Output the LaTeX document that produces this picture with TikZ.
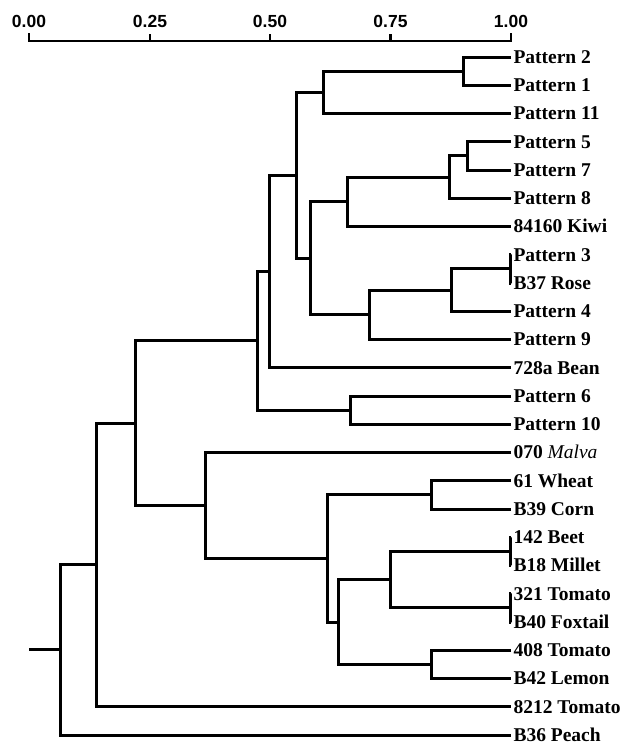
\documentclass[tikz,border=0pt]{standalone}
\usepackage{fontspec}
\setmainfont{Liberation Serif}
\newfontfamily\axisfont{Liberation Sans}
\begin{document}
\begin{tikzpicture}[x=1pt,y=-1pt,
  branch/.style={line width=3pt,line join=miter},
  scaleline/.style={line width=2.5pt},
  leaf/.style={anchor=west,inner xsep=2.5pt,inner ysep=0pt,outer sep=0pt,
    font=\fontsize{19.5}{20}\selectfont\bfseries,text height=12.9pt,text depth=0pt},
  ticklabel/.style={anchor=base,inner sep=0pt,
    font=\axisfont\fontsize{17.5}{18}\selectfont\bfseries}]
\useasboundingbox (0,0) rectangle (627,745);

% distance scale
\coordinate (s0) at (29,41);
\coordinate (s1) at (150,41);
\coordinate (s2) at (270,41);
\coordinate (s3) at (390.5,41);
\coordinate (s4) at (511,41);
\draw[scaleline] ([yshift=8pt]s0) -- (s0) -- (s4) -- ([yshift=8pt]s4);
\foreach \t in {s1,s2,s3} \draw[scaleline] (\t) -- ([yshift=7pt]\t);
\node[ticklabel] (a0) at (29,27) {0.00};
\node[ticklabel] (a1) at (150,27) {0.25};
\node[ticklabel] (a2) at (270,27) {0.50};
\node[ticklabel] (a3) at (390.5,27) {0.75};
\node[ticklabel] (a4) at (511,27) {1.00};

% leaves
\node[leaf] (L0)  at (511,57)     {Pattern 2};
\node[leaf] (L1)  at (511,85.25)  {Pattern 1};
\node[leaf] (L2)  at (511,113.5)  {Pattern 11};
\node[leaf] (L3)  at (511,141.75) {Pattern 5};
\node[leaf] (L4)  at (511,170)    {Pattern 7};
\node[leaf] (L5)  at (511,198.25) {Pattern 8};
\node[leaf] (L6)  at (511,226.5)  {84160 Kiwi};
\node[leaf] (L7)  at (511,254.75) {Pattern 3};
\node[leaf] (L8)  at (511,283)    {B37 Rose};
\node[leaf] (L9)  at (511,311.25) {Pattern 4};
\node[leaf] (L10) at (511,339.5)  {Pattern 9};
\node[leaf] (L11) at (511,367.75) {728a Bean};
\node[leaf] (L12) at (511,396)    {Pattern 6};
\node[leaf] (L13) at (511,424.25) {Pattern 10};
\node[leaf] (L14) at (511,452.5)  {070 \textmd{\textit{Malva}}};
\node[leaf] (L15) at (511,480.75) {61 Wheat};
\node[leaf] (L16) at (511,509)    {B39 Corn};
\node[leaf] (L17) at (511,537.25) {142 Beet};
\node[leaf] (L18) at (511,565.5)  {B18 Millet};
\node[leaf] (L19) at (511,593.75) {321 Tomato};
\node[leaf] (L20) at (511,622)    {B40 Foxtail};
\node[leaf] (L21) at (511,650.25) {408 Tomato};
\node[leaf] (L22) at (511,678.5)  {B42 Lemon};
\node[leaf] (L23) at (511,706.75) {8212 Tomato};
\node[leaf] (L24) at (511,735)    {B36 Peach};

% internal joins (x = distance, y = midpoint of the two children)
\coordinate (n1)  at (463,71.13);
\coordinate (n2)  at (323,92.31);
\coordinate (n3)  at (467,155.88);
\coordinate (n4)  at (449,177.06);
\coordinate (n5)  at (347,201.78);
\coordinate (n6)  at (510,268.88);
\coordinate (n7)  at (451,290.06);
\coordinate (n8)  at (369,314.78);
\coordinate (n9)  at (310,258.28);
\coordinate (n10) at (296,175.30);
\coordinate (n11) at (269,271.52);
\coordinate (n12) at (350,410.13);
\coordinate (n13) at (257,340.83);
\coordinate (n14) at (431,494.88);
\coordinate (n15) at (510,551.38);
\coordinate (n16) at (510,607.88);
\coordinate (n17) at (390,579.63);
\coordinate (n18) at (431,664.38);
\coordinate (n19) at (338,622.00);
\coordinate (n20) at (327,558.44);
\coordinate (n21) at (205,505.47);
\coordinate (n22) at (135,423.15);
\coordinate (n23) at (96,564.95);
\coordinate (n24) at (60,649.98);
\coordinate (root) at (29,649.98);

% branches
\draw[branch] (L0) -| (n1) |- (L1);
\draw[branch] (n1) -| (n2) |- (L2);
\draw[branch] (L3) -| (n3) |- (L4);
\draw[branch] (n3) -| (n4) |- (L5);
\draw[branch] (n4) -| (n5) |- (L6);
\draw[branch] (L7) -| (n6) |- (L8);
\draw[branch] (n6) -| (n7) |- (L9);
\draw[branch] (n7) -| (n8) |- (L10);
\draw[branch] (n5) -| (n9) |- (n8);
\draw[branch] (n2) -| (n10) |- (n9);
\draw[branch] (n10) -| (n11) |- (L11);
\draw[branch] (L12) -| (n12) |- (L13);
\draw[branch] (n11) -| (n13) |- (n12);
\draw[branch] (L15) -| (n14) |- (L16);
\draw[branch] (L17) -| (n15) |- (L18);
\draw[branch] (L19) -| (n16) |- (L20);
\draw[branch] (n15) -| (n17) |- (n16);
\draw[branch] (L21) -| (n18) |- (L22);
\draw[branch] (n17) -| (n19) |- (n18);
\draw[branch] (n14) -| (n20) |- (n19);
\draw[branch] (L14) -| (n21) |- (n20);
\draw[branch] (n13) -| (n22) |- (n21);
\draw[branch] (n22) -| (n23) |- (L23);
\draw[branch] (n23) -| (n24) |- (L24);
\draw[branch] (root) -- (n24);
\end{tikzpicture}
\end{document}
